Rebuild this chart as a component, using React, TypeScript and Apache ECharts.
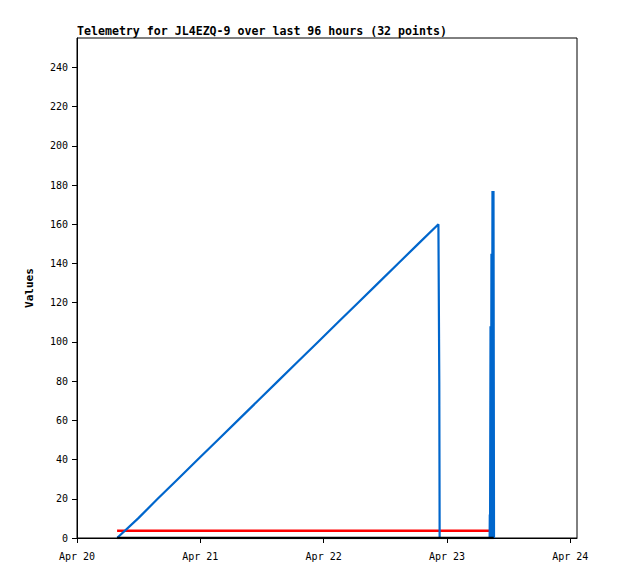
import React, { useEffect, useRef } from "react";
import * as echarts from "echarts";

const titleText = "Telemetry for JL4EZQ-9 over last 96 hours (32 points)";
const dayLabels = ["Apr 20", "Apr 21", "Apr 22", "Apr 23", "Apr 24"];

// hours since Apr 20 00:00
const blueHours = [
  7.8, 11.9, 15.7, 19.6, 23.5, 27.4, 31.3, 35.2, 39.1, 43.0, 46.9, 50.8, 54.7,
  58.6, 62.5, 66.4, 70.33, 70.5, 70.57, 80.3, 80.33, 80.38, 80.47, 80.55,
  80.65, 80.75, 80.85, 80.95, 81.05, 81.15,
];
const blueValues = [
  0, 10, 20, 30, 40, 50, 60, 70, 80, 90, 100, 110, 120, 130, 140, 150, 160,
  80, 0, 0, 12, 0, 108, 0, 145, 0, 177, 0, 177, 0,
];

const redHours = [7.8, 23.5, 39.1, 54.7, 70.33, 80.35];
const redValues = [3.7, 3.7, 3.7, 3.7, 3.7, 3.7];

const blackHours = [7.8, 39.1, 70.33, 81.1];
const blackValues = [0, 0, 0, 0];

const xMax = 97.3;

function pairs(h: number[], v: number[]) {
  return h.map((x, i) => [x, v[i]]);
}

export default function App() {
  const ref = useRef<HTMLDivElement>(null);
  useEffect(() => {
    if (!ref.current) return;
    const chart = echarts.init(ref.current, null, { renderer: "svg" });
    const mono = "DejaVu Sans Mono";
    chart.setOption({
      animation: false,
      backgroundColor: "#ffffff",
      title: {
        text: titleText,
        left: 72,
        top: 20,
        textStyle: { fontFamily: mono, fontSize: 11.6, fontWeight: "bold", color: "#000" },
      },
      grid: {
        left: 77,
        top: 38,
        width: 500,
        height: 500,
        show: true,
        borderColor: "#000",
        borderWidth: 1,
        backgroundColor: "transparent",
      },
      xAxis: {
        type: "value",
        min: 0,
        max: xMax,
        interval: 24,
        splitLine: { show: false },
        axisLine: { show: true, onZero: false, lineStyle: { color: "#000", width: 1 } },
        axisTick: { show: true, length: 5, lineStyle: { color: "#000" } },
        axisLabel: {
          showMaxLabel: false,
          fontFamily: mono,
          fontSize: 10,
          color: "#000",
          margin: 13,
          formatter: (v: number) => dayLabels[Math.round(v / 24)] ?? "",
        },
      },
      yAxis: {
        type: "value",
        min: 0,
        max: 255,
        interval: 20,
        name: "Values",
        nameLocation: "middle",
        nameGap: 42,
        nameTextStyle: { fontFamily: mono, fontSize: 11, fontWeight: "bold", color: "#000" },
        splitLine: { show: false },
        axisLine: { show: true, lineStyle: { color: "#000", width: 1 } },
        axisTick: { show: true, length: 5, lineStyle: { color: "#000" } },
        axisLabel: {
          showMaxLabel: false,
          fontFamily: mono,
          fontSize: 10,
          color: "#000",
          margin: 9,
        },
      },
      series: [
        {
          type: "line",
          data: pairs(redHours, redValues),
          showSymbol: false,
          lineStyle: { color: "#ff0000", width: 2.5 },
          z: 3,
        },
        {
          type: "line",
          data: pairs(blueHours, blueValues),
          showSymbol: false,
          lineStyle: { color: "#0066cc", width: 2.2 },
          z: 4,
        },
        {
          type: "line",
          data: pairs(blackHours, blackValues),
          showSymbol: false,
          lineStyle: { color: "#000", width: 2.5 },
          z: 5,
        },
      ],
    });
    return () => chart.dispose();
  }, []);
  return (
    <div
      ref={ref}
      style={{ position: "fixed", left: 0, top: 0, width: 618, height: 579 }}
    />
  );
}
